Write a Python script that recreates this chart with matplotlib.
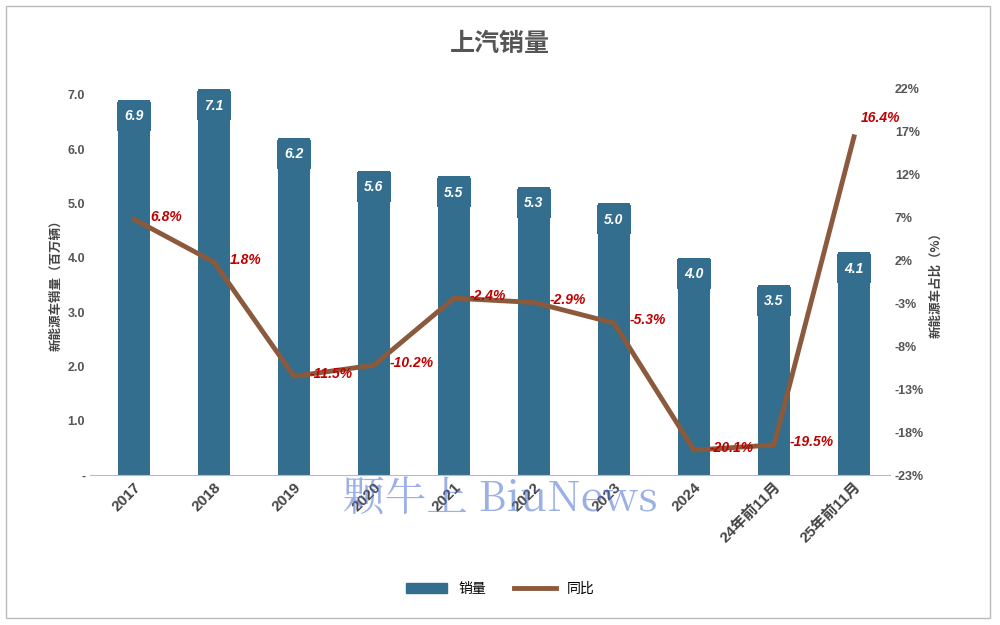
import matplotlib
matplotlib.use("Agg")
import matplotlib.pyplot as plt
from matplotlib.patches import Rectangle, Patch
from matplotlib.lines import Line2D

plt.rcParams['font.family'] = ['Noto Sans CJK SC', 'DejaVu Sans']

categories = ["2017", "2018", "2019", "2020", "2021", "2022", "2023", "2024", "24年前11月", "25年前11月"]
sales = [6.9, 7.1, 6.2, 5.6, 5.5, 5.3, 5.0, 4.0, 3.5, 4.1]
yoy = [6.8, 1.8, -11.5, -10.2, -2.4, -2.9, -5.3, -20.1, -19.5, 16.4]

bar_c = "#336e8e"
line_c = "#8b5a3c"
num_font = ["Liberation Sans", "DejaVu Sans"]
fig = plt.figure(figsize=(10, 6.25), dpi=100)
fig.patches.append(Rectangle((0.006, 0.012), 0.984, 0.978, transform=fig.transFigure,
                             fill=False, edgecolor="#bbbbbb", lw=1))
ax = fig.add_axes([0.09, 0.24, 0.80, 0.618])
x = list(range(len(categories)))
ax.bar(x, sales, width=0.4, color=bar_c, zorder=2)
ax.set_ylim(0, 7.11)
ax.set_xlim(-0.55, len(categories) - 0.55)
ax.set_yticks([i for i in range(8)])
ax.set_yticklabels(["-"] + [f"{i:.1f}" for i in range(1, 8)], fontsize=9, color="#555555",
                   family=num_font, fontweight="bold")
ax.set_xticks(x)
ax.set_xticklabels(categories, rotation=45, ha="right", rotation_mode="anchor",
                   fontsize=11, color="#444444", fontweight="bold",
                   family=["Liberation Sans", "Noto Sans CJK SC"])
for s in ["top", "right", "left"]:
    ax.spines[s].set_visible(False)
ax.spines["bottom"].set_color("#bbbbbb")
ax.tick_params(length=0)
ax.set_ylabel("新能源车销量（百万辆）", fontsize=9, color="#444444", fontweight="bold")
for xi, v in zip(x, sales):
    ax.text(xi, v - 0.3, f"{v:.1f}", ha="center", va="center", color="white",
            fontsize=10, fontstyle="italic", fontweight="bold", family=num_font,
            bbox=dict(boxstyle="square,pad=0.55", fc=bar_c, ec="none"), zorder=3)

ax2 = ax.twinx()
ax2.plot(x, yoy, color=line_c, lw=3.5, zorder=4)
ax2.set_ylim(-23, 22)
ax2.set_yticks(list(range(-23, 23, 5)))
ax2.set_yticklabels([f"{t}%" for t in range(-23, 23, 5)], fontsize=9, color="#555555",
                    family=num_font, fontweight="bold")
for s in ["top", "right", "left", "bottom"]:
    ax2.spines[s].set_visible(False)
ax2.tick_params(length=0)
ax2.set_ylabel("新能源车占比（%）", fontsize=9, color="#444444", fontweight="bold")
for i, (xi, v) in enumerate(zip(x, yoy)):
    dx, dy = (0.08, 2.2) if i == len(x) - 1 else (0.2, 0.3)
    ax2.text(xi + dx, v + dy, f"{v:.1f}%", ha="left", va="center", color="#c00000",
             fontsize=10, fontstyle="italic", fontweight="bold", family=num_font, zorder=5)

fig.text(0.5, 0.93, "上汽销量", ha="center", va="center", fontsize=18,
         fontweight="bold", color="#555555")
fig.text(0.5, 0.2, "颗牛上 BiuNews", ha="center", va="center", fontsize=30,
         color="#4a6fd0", alpha=0.55, family=["Noto Serif CJK SC", "Noto Sans CJK SC", "DejaVu Serif"])

handles = [Patch(color=bar_c, label="销量"), Line2D([], [], color=line_c, lw=3.5, label="同比")]
fig.legend(handles=handles, loc="center", bbox_to_anchor=(0.5, 0.058), ncol=2,
           frameon=False, fontsize=10, handlelength=3)
fig.savefig("out.png", dpi=100)
